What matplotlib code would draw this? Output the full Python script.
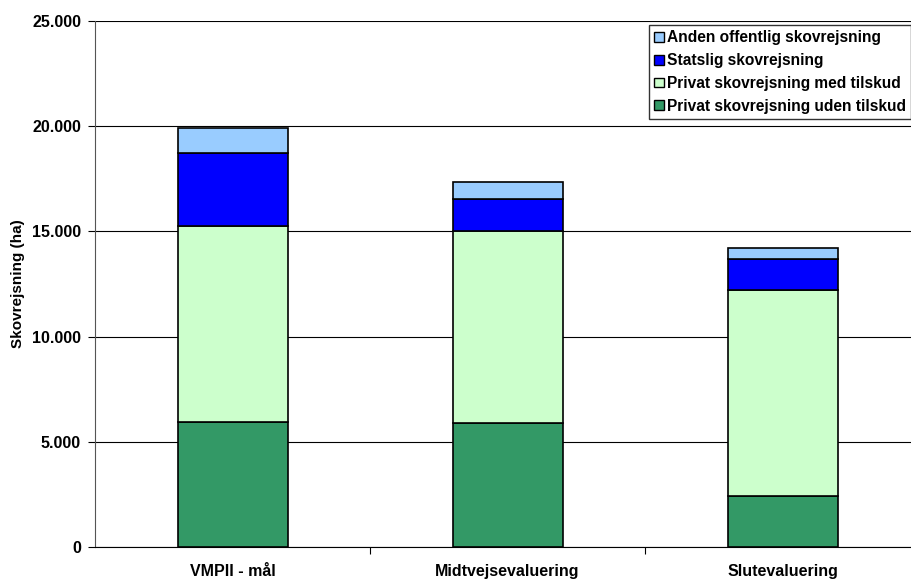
import matplotlib.pyplot as plt
from matplotlib.patches import Patch
from matplotlib.ticker import FuncFormatter
import numpy as np

plt.rcParams['font.family'] = ['Liberation Sans', 'DejaVu Sans']
plt.rcParams['font.weight'] = 'bold'

categories = ['VMPII - mål', 'Midtvejsevaluering', 'Slutevaluering']
uden_tilskud = [5950, 5900, 2420]
med_tilskud = [9310, 9120, 9780]
statslig = [3470, 1530, 1490]
anden_offentlig = [1180, 780, 510]

series = [
    ('Privat skovrejsning uden tilskud', uden_tilskud, '#339966'),
    ('Privat skovrejsning med tilskud', med_tilskud, '#CCFFCC'),
    ('Statslig skovrejsning', statslig, '#0000FF'),
    ('Anden offentlig skovrejsning', anden_offentlig, '#99CCFF'),
]

fs = 11.5

fig = plt.figure(figsize=(9.11, 5.79), dpi=100)
# plot area continues past the right edge, as in the reference
ax = fig.add_axes([95 / 911, 1 - 547 / 579, 825 / 911, 526 / 579])

x = np.arange(len(categories))
bottom = np.zeros(len(categories))
for name, vals, color in series:
    ax.bar(x, vals, width=0.4, bottom=bottom, color=color,
           edgecolor='black', linewidth=1.2, zorder=3)
    bottom += np.array(vals)

ax.set_xlim(-0.5, 2.5)
ax.set_ylim(0, 25000)
ax.set_yticks(np.arange(0, 25001, 5000))
ax.yaxis.set_major_formatter(FuncFormatter(lambda v, p: f'{int(v):,}'.replace(',', '.')))
ax.yaxis.grid(True, color='black', linewidth=0.8, zorder=0)

ax.set_xticks([0.5, 1.5])
ax.set_xticklabels([])
ax.set_xticks(x, minor=True)
ax.set_xticklabels(categories, minor=True, fontsize=fs, fontweight='bold')
ax.tick_params(axis='x', which='minor', length=0, pad=12)
ax.tick_params(axis='x', which='major', length=5, direction='out')
ax.tick_params(axis='y', length=5, direction='out', labelsize=fs, pad=5)
for lbl in ax.get_yticklabels():
    lbl.set_fontweight('bold')

for side in ['top', 'right']:
    ax.spines[side].set_visible(False)
ax.spines['left'].set_color('#555555')
ax.spines['bottom'].set_color('black')

ax.set_ylabel('Skovrejsning (ha)', fontsize=11, fontweight='bold', labelpad=5)

handles = [Patch(facecolor=c, edgecolor='black', label=n) for n, v, c in series][::-1]
leg = fig.legend(handles=handles, loc='upper left', bbox_to_anchor=(649 / 911, 1 - 25 / 579),
                 fontsize=11.2, frameon=True, fancybox=False, edgecolor='black',
                 handlelength=0.6, handleheight=0.6, handletextpad=0.2,
                 labelspacing=0.5, borderpad=0.35, borderaxespad=0)
leg.get_frame().set_linewidth(1.0)
for t in leg.get_texts():
    t.set_fontweight('bold')

fig.savefig('out.png', dpi=100)
